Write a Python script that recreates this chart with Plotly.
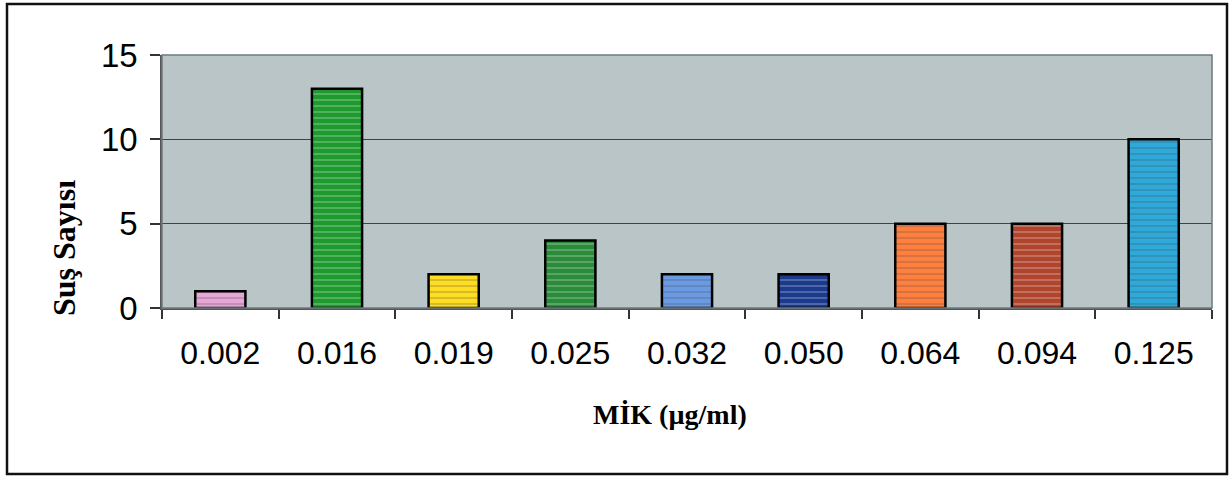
import plotly.graph_objects as go

categories = ["0.002", "0.016", "0.019", "0.025", "0.032", "0.050", "0.064", "0.094", "0.125"]
counts = [1, 13, 2, 4, 2, 2, 5, 5, 10]
bar_colors = ["#E6A6D6", "#1F9A2E", "#FFDD22", "#2A8B3A", "#6A9BE2",
              "#1B3A8C", "#FF7F3E", "#B0452E", "#2FA9DA"]
y_ticks = [0, 5, 10, 15]

W, H = 1231, 478
L, R, T, B = 162, 19, 55, 170
pw, ph = W - L - R, H - T - B

def px(x):
    return (x - L) / pw

def py(y):
    return (H - B - y) / ph

fig = go.Figure(go.Bar(
    x=categories, y=counts,
    marker=dict(color=bar_colors, line=dict(color="black", width=2.5),
                pattern=dict(shape="-", fgcolor="rgba(255,255,255,0.25)", size=6, solidity=0.15)),
    width=0.43,
))

fig.update_layout(
    width=W, height=H,
    margin=dict(l=L, r=R, t=T, b=B),
    paper_bgcolor="white",
    plot_bgcolor="#BAC5C7",
    showlegend=False,
    font=dict(family="Liberation Sans, Arial", color="black"),
    xaxis=dict(
        type="category", tickson="boundaries", ticks="outside", ticklen=9,
        tickcolor="#333", tickwidth=1.5, showgrid=False,
        tickfont=dict(size=32), ticklabelstandoff=16,
        showline=True, linecolor="#555", linewidth=1.5,
    ),
    yaxis=dict(
        range=[0, 15], tickvals=y_ticks, ticks="outside", ticklen=10,
        tickcolor="#333", tickwidth=1.5, tickfont=dict(size=33), ticklabelstandoff=6,
        showgrid=True, gridcolor="#3E4446", gridwidth=1.2, zeroline=False,
        showline=True, linecolor="#555", linewidth=1.5, mirror=False,
    ),
    shapes=[
        dict(type="rect", xref="paper", yref="paper", x0=0, x1=1, y0=0, y1=1,
             line=dict(color="#6D7A7C", width=1.5)),
        dict(type="rect", xref="paper", yref="paper",
             x0=px(7), x1=px(1227), y0=py(474), y1=py(4),
             line=dict(color="#111", width=2.5)),
    ],
    annotations=[
        dict(text="<b>Suş Sayısı</b>", xref="paper", yref="paper", x=px(64), y=py(248),
             textangle=-90, showarrow=False, xanchor="center", yanchor="middle",
             font=dict(family="Liberation Serif, Times New Roman", size=32)),
        dict(text="<b>MİK (µg/ml)</b>", xref="paper", yref="paper", x=px(670), y=py(414),
             showarrow=False, xanchor="center", yanchor="middle",
             font=dict(family="Liberation Serif, Times New Roman", size=28)),
    ],
)

fig.write_html("out.html")
